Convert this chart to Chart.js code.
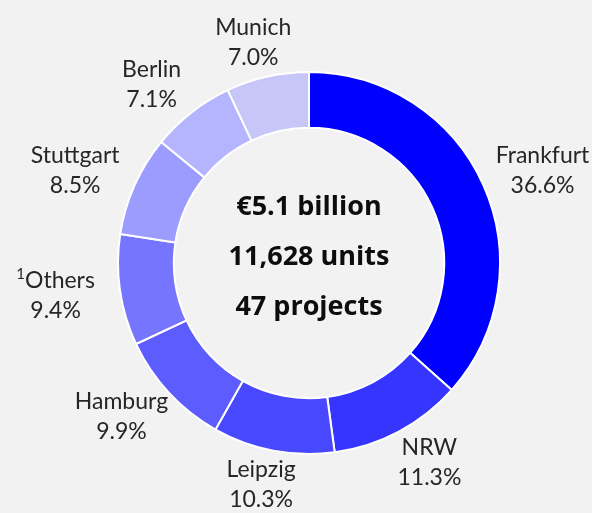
<!DOCTYPE html>
<html lang="en">
<head>
    <meta charset="UTF-8">
    <title>Transactions by City</title>
    <script src="https://cdn.jsdelivr.net/npm/chart.js"></script>
    <style>
        html, body {
            margin: 0;
            padding: 0;
            background-color: #f2f2f2;
        }
        #chart {
            display: block;
        }
    </style>
</head>
<body>
    <canvas id="chart" width="592" height="513"></canvas>

    <script>
        // Share of volume by location (%)
        const cities = ['Frankfurt', 'NRW', 'Leipzig', 'Hamburg', 'Others', 'Stuttgart', 'Berlin', 'Munich'];
        const shares = [36.6, 11.3, 10.3, 9.9, 9.4, 8.5, 7.1, 7.0];
        const footnotes = ['', '', '', '', '1', '', '', ''];
        const sliceColors = ['#0000ff', '#3535ff', '#4848ff', '#5c5cff', '#7575ff', '#9c9cff', '#b4b4ff', '#c6c6f9'];
        const centerLines = ['€5.1 billion', '11,628 units', '47 projects'];

        const labelFont = '23px Lato, "Open Sans", sans-serif';
        const supFont = '15px Lato, "Open Sans", sans-serif';
        const centerFont = 'bold 27px "Open Sans", Lato, sans-serif';

        // draws the city name + percentage outside each slice
        const outsideLabels = {
            id: 'outsideLabels',
            afterDatasetsDraw(chart) {
                const ctx = chart.ctx;
                const meta = chart.getDatasetMeta(0);
                ctx.save();
                ctx.fillStyle = '#262626';
                ctx.textBaseline = 'middle';
                meta.data.forEach((arc, i) => {
                    const mid = (arc.startAngle + arc.endAngle) / 2;
                    // labels sit on an ellipse: wider sideways, tighter top/bottom
                    const x = arc.x + Math.cos(mid) * (arc.outerRadius + 65);
                    const y = arc.y + Math.sin(mid) * (arc.outerRadius + 35);
                    const name = cities[i];
                    ctx.font = labelFont;
                    const nameW = ctx.measureText(name).width;
                    let supW = 0;
                    if (footnotes[i]) {
                        ctx.font = supFont;
                        supW = ctx.measureText(footnotes[i]).width;
                    }
                    const left = x - (nameW + supW) / 2;
                    ctx.textAlign = 'left';
                    if (footnotes[i]) {
                        ctx.font = supFont;
                        ctx.fillText(footnotes[i], left, y - 21);
                    }
                    ctx.font = labelFont;
                    ctx.fillText(name, left + supW, y - 15);
                    ctx.textAlign = 'center';
                    ctx.fillText(shares[i].toFixed(1) + '%', x, y + 15);
                });

                // summary in the middle
                const c = meta.data[0];
                ctx.fillStyle = '#0d0d0d';
                ctx.font = centerFont;
                ctx.textAlign = 'center';
                centerLines.forEach((line, i) => {
                    ctx.fillText(line, c.x, c.y - 56 + i * 50);
                });
                ctx.restore();
            }
        };

        new Chart(document.getElementById('chart'), {
            type: 'doughnut',
            data: {
                labels: cities,
                datasets: [{
                    data: shares,
                    backgroundColor: sliceColors,
                    borderColor: '#ffffff',
                    borderWidth: 2
                }]
            },
            options: {
                responsive: false,
                animation: false,
                cutout: '70.8%',
                layout: {
                    padding: { left: 117, right: 91, top: 71, bottom: 58 }
                },
                plugins: {
                    legend: { display: false },
                    tooltip: { enabled: false }
                }
            },
            plugins: [outsideLabels]
        });
    </script>
</body>
</html>
